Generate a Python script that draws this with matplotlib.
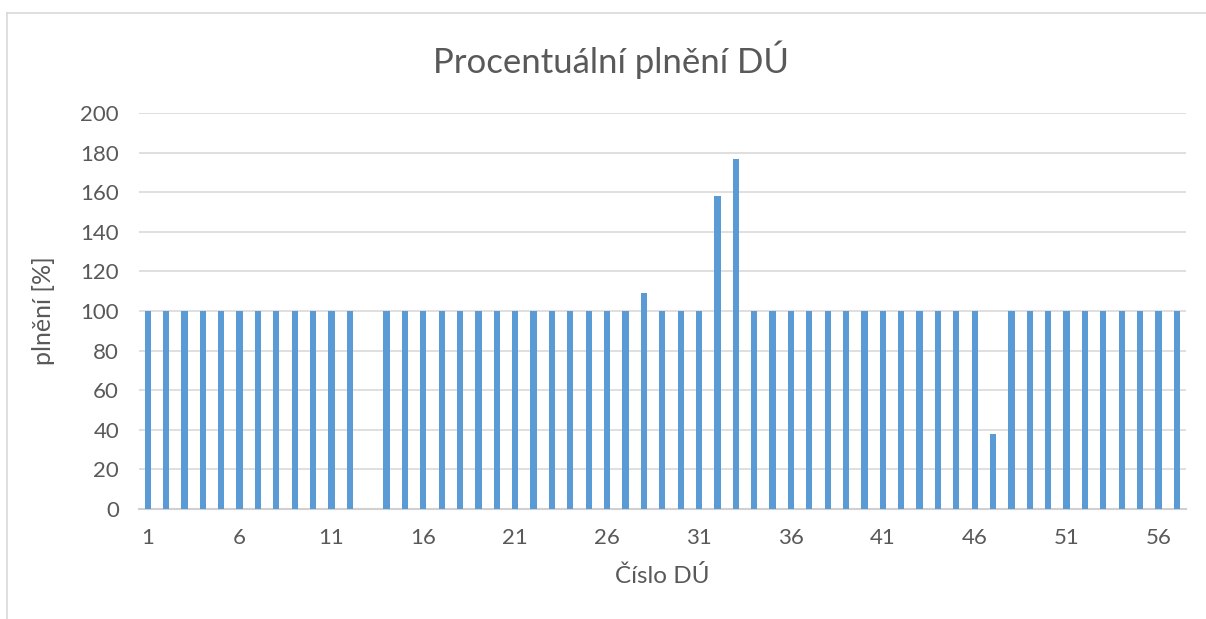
import matplotlib
matplotlib.use("Agg")
import matplotlib.pyplot as plt
from matplotlib.lines import Line2D

categories = list(range(1, 58))
values = [100] * 57
values[12] = 0      # DÚ 13
values[27] = 109    # DÚ 28
values[31] = 158    # DÚ 32
values[32] = 177    # DÚ 33
values[46] = 38     # DÚ 47
xtick_labels = [str(c) for c in categories if (c - 1) % 5 == 0]
yticks = list(range(0, 201, 20))

plt.rcParams['font.family'] = ['Lato', 'DejaVu Sans']
W, H = 1206, 619
fig = plt.figure(figsize=(W / 100, H / 100), dpi=100)
# outer chart border (only top and left edges visible)
fig.lines.append(Line2D([6.5 / W, 1.0], [1 - 13 / H, 1 - 13 / H], transform=fig.transFigure,
                        color='#d9d9d9', linewidth=1.2))
fig.lines.append(Line2D([6.5 / W, 6.5 / W], [0, 1 - 13 / H], transform=fig.transFigure,
                        color='#d9d9d9', linewidth=1.2))

ax = fig.add_axes([138.5 / W, 1 - 509 / H, (1186 - 138.5) / W, (509 - 113) / H])

ax.bar(categories, values, width=0.34, color='#5b9bd5', zorder=3)
ax.set_xlim(0.5, 57.5)
ax.set_ylim(0, 200)
ax.set_yticks(yticks)
ax.set_xticks([c for c in categories if (c - 1) % 5 == 0])
ax.set_xticklabels(xtick_labels)
ax.grid(axis='y', color='#d9d9d9', linewidth=1.2, zorder=0)
for s in ['top', 'right', 'left']:
    ax.spines[s].set_visible(False)
ax.spines['bottom'].set_color('#d0d0d0')
ax.spines['bottom'].set_linewidth(1.5)
ax.tick_params(axis='both', length=0, labelsize=16, colors='#595959')
ax.tick_params(axis='x', pad=14)
ax.tick_params(axis='y', pad=14)

fig.text(611 / W, 1 - 60 / H, 'Procentuální plnění DÚ', fontsize=25, color='#595959',
         ha='center', va='center')
ax.set_xlabel('Číslo DÚ', fontsize=17.5, color='#595959', labelpad=12)
ax.set_ylabel('plnění [%]', fontsize=18, color='#595959', labelpad=18)

fig.savefig('out.png', dpi=100)
